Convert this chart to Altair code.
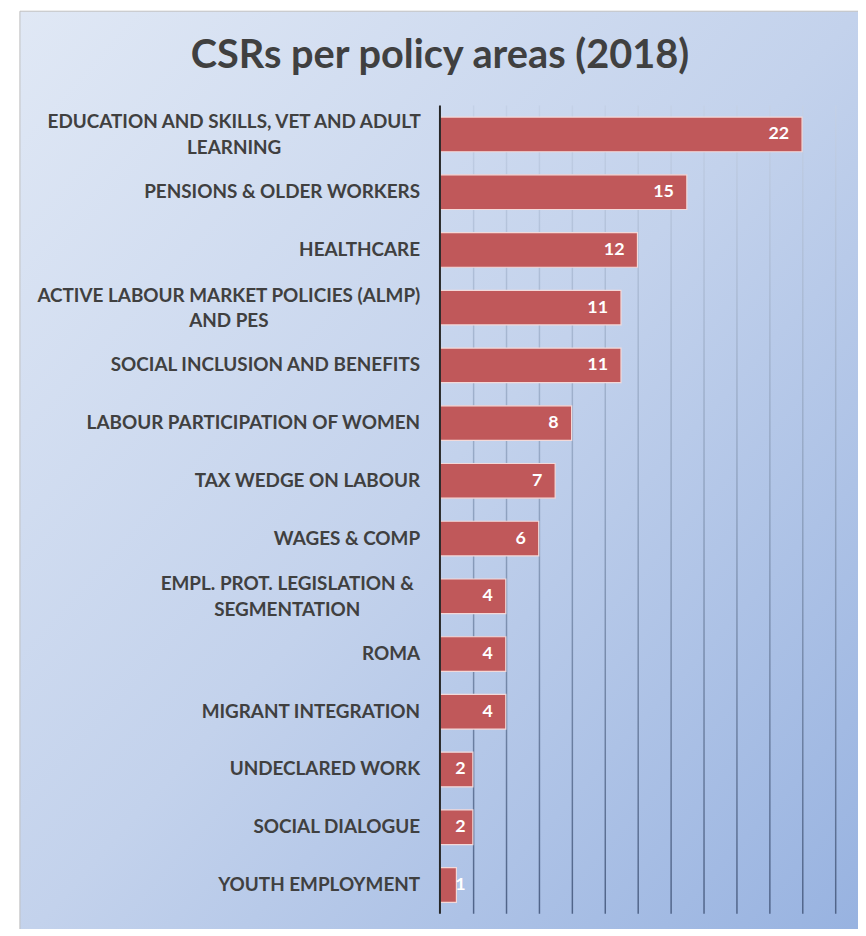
import altair as alt
import pandas as pd

# ---- data ----
categories = [
    "EDUCATION AND SKILLS, VET AND ADULT\nLEARNING",
    "PENSIONS & OLDER WORKERS",
    "HEALTHCARE",
    "ACTIVE LABOUR MARKET POLICIES (ALMP)\nAND PES",
    "SOCIAL INCLUSION AND BENEFITS",
    "LABOUR PARTICIPATION OF WOMEN",
    "TAX WEDGE ON LABOUR",
    "WAGES & COMP",
    "EMPL. PROT. LEGISLATION &\nSEGMENTATION",
    "ROMA",
    "MIGRANT INTEGRATION",
    "UNDECLARED WORK",
    "SOCIAL DIALOGUE",
    "YOUTH EMPLOYMENT",
]
values = [22, 15, 12, 11, 11, 8, 7, 6, 4, 4, 4, 2, 2, 1]
grid_ticks = [2, 4, 6, 8, 10, 12, 14, 16, 18, 20, 22, 24]
title_text = "CSRs per policy areas (2018)"

df = pd.DataFrame({"cat": categories, "v": values})
grid_df = pd.DataFrame({"g": grid_ticks})

W, H = 421, 814
LEFT = 435
FONT = "Lato"
XMAX = 25.4

xscale = alt.Scale(domain=[0, XMAX], nice=False, zero=True)
yscale = alt.Scale(domain=categories, paddingInner=0.4, paddingOuter=0.2)

bg_grad = alt.LinearGradient(
    gradient="linear",
    stops=[alt.GradientStop(color="#e0e8f5", offset=0),
           alt.GradientStop(color="#c3d2ec", offset=0.5),
           alt.GradientStop(color="#97b2e0", offset=1)],
    x1=0, y1=0, x2=1, y2=1,
)
grid_grad = alt.LinearGradient(
    gradient="linear",
    stops=[alt.GradientStop(color="#c4d1e7", offset=0),
           alt.GradientStop(color="#8fa2c0", offset=0.5),
           alt.GradientStop(color="#4f6388", offset=1)],
    x1=0, y1=0, x2=0, y2=1,
)

background = alt.Chart(pd.DataFrame({"a": [0]})).mark_rect(
    fill=bg_grad, stroke="#bfbfbf", strokeWidth=1
).encode(
    x=alt.value(-(LEFT - 12)), x2=alt.value(W + 1), y=alt.value(-95), y2=alt.value(H + 30)
)

title = alt.Chart(pd.DataFrame({"t": [title_text]})).mark_text(
    align="center", baseline="alphabetic", font=FONT, fontWeight="bold",
    fontSize=40, color="#404040"
).encode(
    x=alt.value(-(LEFT - 12) + 423),
    y=alt.value(-38),
    text="t:N",
)

grid = alt.Chart(grid_df).transform_calculate(
    g2="datum.g + 0.09"
).mark_rect(fill=grid_grad).encode(
    x=alt.X("g:Q", scale=xscale, axis=None),
    x2="g2:Q",
    y=alt.value(0),
    y2=alt.value(H),
)

bars = alt.Chart(df).mark_bar(
    fill="#c0585a", stroke="#f3d9d9", strokeWidth=1.2
).encode(
    x=alt.X("v:Q", scale=xscale, axis=None),
    y=alt.Y("cat:N", scale=yscale, axis=None, sort=categories),
)

value_labels = alt.Chart(df).transform_calculate(
    lx="max(datum.v, 2.35)"
).mark_text(
    align="right", baseline="middle", dx=-13, font=FONT, fontWeight="bold",
    fontSize=18, color="white"
).encode(
    x=alt.X("lx:Q", scale=xscale, axis=None),
    y=alt.Y("cat:N", scale=yscale, axis=None, sort=categories),
    text="v:Q",
)

K = 10.7
TWO = "indexof(datum.cat, '\\n') >= 0"
cat_labels = alt.Chart(df).mark_text(
    baseline="middle", font=FONT, fontWeight="bold", fontSize=19,
    color="#404040", lineBreak="\n", lineHeight=26,
    align=alt.expr(f"{TWO} ? 'center' : 'right'"),
    dx=alt.expr(f"{TWO} ? -length(split(datum.cat, '\\n')[0]) * {K} / 2 : 0"),
    dy=alt.expr(f"{TWO} ? -12 : 0"),
).encode(
    x=alt.value(-20),
    y=alt.Y("cat:N", scale=yscale, axis=None, sort=categories),
    text="cat:N",
)

zero_line = alt.Chart(pd.DataFrame({"z": [0]})).mark_rule(
    color="#262626", strokeWidth=2
).encode(
    x=alt.X("z:Q", scale=xscale, axis=None),
    y=alt.value(0),
    y2=alt.value(H),
)

chart = alt.layer(
    background, title, grid, bars, zero_line, value_labels, cat_labels
).properties(
    width=W,
    height=H,
    autosize=alt.AutoSizeParams(type="none"),
    padding={"left": LEFT, "top": 95, "right": 0, "bottom": 12},
).configure_view(stroke=None).configure(background="white")

chart.save("out.html", embed_options={"renderer": "svg", "actions": False})
